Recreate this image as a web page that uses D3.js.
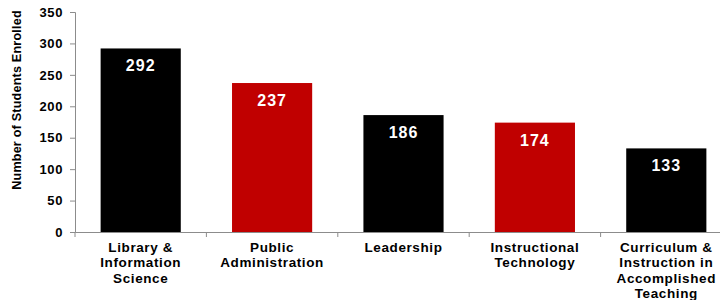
<!DOCTYPE html>
<html>
<head>
<meta charset="utf-8">
<script src="https://cdn.jsdelivr.net/npm/d3@7"></script>
<style>
  body { margin: 0; background: #fff; }
  text { font-family: "Liberation Sans", Arial, sans-serif; }
</style>
</head>
<body>
<div id="chart"></div>
<script>
const width = 720;
const height = 300;

// data
const programs = [
  ["Library &", "Information", "Science"],
  ["Public", "Administration"],
  ["Leadership"],
  ["Instructional", "Technology"],
  ["Curriculum &", "Instruction in", "Accomplished", "Teaching"]
];
const enrolled = [292, 237, 186, 174, 133];
const barColours = ["#000000", "#c00000", "#000000", "#c00000", "#000000"];
const yTicks = [0, 50, 100, 150, 200, 250, 300, 350];

const svg = d3.select("#chart")
  .append("svg")
  .attr("width", width)
  .attr("height", height);

const x = d3.scaleBand()
  .domain(d3.range(programs.length))
  .range([75, 732])
  .paddingInner(0.39)
  .paddingOuter(0.195);

const y = d3.scaleLinear()
  .domain([0, 350])
  .range([232, 12]);

// y axis
const yAxis = svg.append("g")
  .attr("transform", "translate(75,0)")
  .call(d3.axisLeft(y).tickValues(yTicks).tickSize(5).tickPadding(7));
yAxis.select(".domain").attr("stroke", "#8c8c8c");
yAxis.selectAll(".tick line").attr("stroke", "#8c8c8c");
yAxis.selectAll(".tick text")
  .attr("fill", "#000")
  .style("font-size", "13px")
  .style("font-weight", "bold")
  .style("letter-spacing", "0.6px");

// y title
svg.append("text")
  .attr("transform", "translate(21,100) rotate(-90)")
  .attr("text-anchor", "middle")
  .style("font-size", "12.6px")
  .style("font-weight", "bold")
  .style("letter-spacing", "0.2px")
  .text("Number of Students Enrolled");

// bars
svg.selectAll("rect.bar")
  .data(enrolled)
  .enter()
  .append("rect")
  .attr("class", "bar")
  .attr("x", (d, i) => x(i))
  .attr("width", x.bandwidth())
  .attr("y", d => y(d))
  .attr("height", d => y(0) - y(d))
  .attr("fill", (d, i) => barColours[i]);

// value labels
svg.selectAll("text.val")
  .data(enrolled)
  .enter()
  .append("text")
  .attr("class", "val")
  .attr("x", (d, i) => x(i) + x.bandwidth() / 2)
  .attr("y", d => y(d) + 23)
  .attr("text-anchor", "middle")
  .attr("fill", "#fff")
  .style("font-size", "16px")
  .style("font-weight", "bold")
  .style("letter-spacing", "1px")
  .text(d => d);

// x axis
const xAxis = svg.append("g")
  .attr("transform", "translate(0,232)")
  .call(d3.axisBottom(x).tickValues([]).tickSizeOuter(0));
xAxis.select(".domain").attr("stroke", "#8c8c8c");

const step = x.step();
svg.append("g")
  .selectAll("line")
  .data(d3.range(programs.length + 1))
  .enter()
  .append("line")
  .attr("x1", i => 75 + i * step)
  .attr("x2", i => 75 + i * step)
  .attr("y1", 232)
  .attr("y2", 237)
  .attr("stroke", "#8c8c8c");

// category labels
const labels = svg.selectAll("text.cat")
  .data(programs)
  .enter()
  .append("text")
  .attr("class", "cat")
  .attr("text-anchor", "middle")
  .style("font-size", "13.5px")
  .style("font-weight", "bold")
  .style("letter-spacing", "0.6px");

labels.selectAll("tspan")
  .data((d, i) => d.map(line => ({ line, i })))
  .enter()
  .append("tspan")
  .attr("x", d => x(d.i) + x.bandwidth() / 2)
  .attr("y", (d, j) => 252 + j * 15.4)
  .text(d => d.line);
</script>
</body>
</html>
